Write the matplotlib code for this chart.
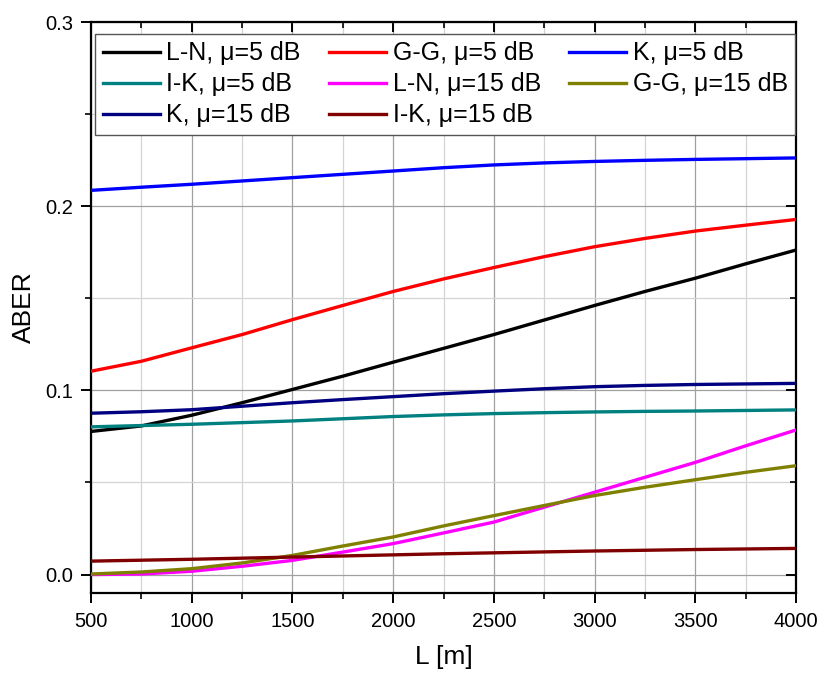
import matplotlib.pyplot as plt
from matplotlib.ticker import MultipleLocator, FormatStrFormatter

plt.rcParams["font.family"] = ["Liberation Sans", "DejaVu Sans"]

L = [500, 750, 1000, 1250, 1500, 1750, 2000, 2250, 2500, 2750, 3000, 3250, 3500, 3750, 4000]

ln_5 = [0.0777, 0.0807, 0.0865, 0.0933, 0.1005, 0.1077, 0.1153, 0.1228, 0.1303, 0.1382,
        0.1461, 0.1537, 0.1609, 0.1687, 0.1762]
gg_5 = [0.1104, 0.1158, 0.1231, 0.1303, 0.1384, 0.1461, 0.1537, 0.1605, 0.1667, 0.1726,
        0.1780, 0.1825, 0.1865, 0.1897, 0.1928]
k_5 = [0.2086, 0.2103, 0.2119, 0.2137, 0.2155, 0.2173, 0.2191, 0.2209, 0.2224, 0.2235,
       0.2243, 0.2249, 0.2254, 0.2258, 0.2262]
ik_5 = [0.0802, 0.0809, 0.0816, 0.0825, 0.0834, 0.0846, 0.0858, 0.0867, 0.0874, 0.0879,
        0.0883, 0.0886, 0.0888, 0.0891, 0.0894]
ln_15 = [0.0000, 0.0003, 0.0018, 0.0045, 0.0077, 0.0122, 0.0168, 0.0226, 0.0285, 0.0366,
         0.0447, 0.0528, 0.0609, 0.0699, 0.0785]
gg_15 = [0.0003, 0.0014, 0.0032, 0.0063, 0.0104, 0.0155, 0.0204, 0.0264, 0.0320, 0.0375,
         0.0429, 0.0474, 0.0515, 0.0555, 0.0591]
k_15 = [0.0876, 0.0884, 0.0895, 0.0914, 0.0933, 0.0950, 0.0966, 0.0982, 0.0996, 0.1009,
        0.1020, 0.1027, 0.1032, 0.1035, 0.1038]
ik_15 = [0.0073, 0.0078, 0.0083, 0.0089, 0.0095, 0.0101, 0.0107, 0.0113, 0.0118, 0.0123,
         0.0128, 0.0132, 0.0136, 0.0139, 0.0142]

series = [
    ("L-N, \u03bc=5 dB", ln_5, "#000000"),
    ("G-G, \u03bc=5 dB", gg_5, "#ff0000"),
    ("K, \u03bc=5 dB", k_5, "#0000ff"),
    ("I-K, \u03bc=5 dB", ik_5, "#008080"),
    ("L-N, \u03bc=15 dB", ln_15, "#ff00ff"),
    ("G-G, \u03bc=15 dB", gg_15, "#808000"),
    ("K, \u03bc=15 dB", k_15, "#000080"),
    ("I-K, \u03bc=15 dB", ik_15, "#800000"),
]

fig = plt.figure(figsize=(8.21, 6.75), dpi=100)
ax = fig.add_axes([0.1108, 0.1215, 0.8588, 0.8459])

lines = []
for name, vals, col in series:
    (h,) = ax.plot(L, vals, color=col, lw=2.4, label=name, zorder=3)
    lines.append(h)

ax.set_xlim(500, 4000)
ax.set_ylim(-0.01, 0.3)
ax.xaxis.set_major_locator(MultipleLocator(500))
ax.xaxis.set_minor_locator(MultipleLocator(250))
ax.yaxis.set_major_locator(MultipleLocator(0.1))
ax.yaxis.set_minor_locator(MultipleLocator(0.05))
ax.yaxis.set_major_formatter(FormatStrFormatter("%.1f"))

ax.grid(True, which="major", color="#a0a0a0", lw=0.9)
ax.grid(True, which="minor", color="#d4d4d4", lw=0.9)
ax.set_axisbelow(True)

for s in ax.spines.values():
    s.set_linewidth(1.6)

ax.tick_params(axis="both", which="major", labelsize=14.5, width=1.4, length=7.5, direction="out")
ax.tick_params(axis="both", which="minor", width=1.2, length=4.5, direction="out")
ax.tick_params(axis="x", which="both", top=True, pad=6)
ax.tick_params(axis="y", which="both", right=True, pad=5)
# top/right ticks point inward
for t in ax.xaxis.get_major_ticks() + ax.xaxis.get_minor_ticks():
    t.tick2line.set_marker(3)
for t in ax.yaxis.get_major_ticks() + ax.yaxis.get_minor_ticks():
    t.tick2line.set_marker(0)

ax.set_xlabel("L [m]", fontsize=19, labelpad=10)
ax.set_ylabel("ABER", fontsize=19, labelpad=7)

# three columns, filled row by row
order = [0, 3, 6, 1, 4, 7, 2, 5]
leg = ax.legend([lines[i] for i in order], [series[i][0] for i in order],
                ncol=3, loc="upper left", bbox_to_anchor=(0.006, 0.979),
                borderaxespad=0, fontsize=18, handlelength=2.3, handletextpad=0.25,
                columnspacing=1.12, labelspacing=0.28, borderpad=0.3,
                fancybox=False, framealpha=1, edgecolor="#555555")
leg.get_frame().set_linewidth(1.0)
for h in leg.get_lines():
    h.set_linewidth(2.4)

fig.savefig("out.png", dpi=100)
